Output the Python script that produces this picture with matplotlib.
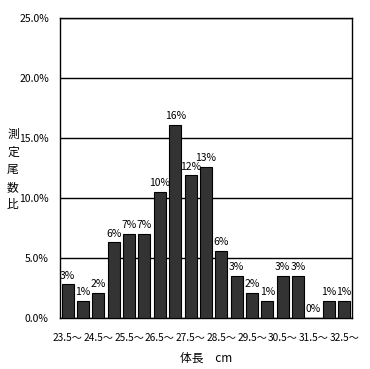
import numpy as np
import matplotlib.pyplot as plt

plt.rcParams['font.family'] = ['Noto Sans CJK JP', 'DejaVu Sans']

# Data
classes = ['23.5～', '24～', '24.5～', '25～', '25.5～', '26～', '26.5～', '27～',
           '27.5～', '28～', '28.5～', '29～', '29.5～', '30～', '30.5～', '31～',
           '31.5～', '32～', '32.5～']
ratios = [2.83, 1.42, 2.13, 6.33, 7.0, 7.0, 10.5, 16.1, 11.9, 12.6,
          5.6, 3.5, 2.13, 1.42, 3.5, 3.5, 0.0, 1.42, 1.42]
value_labels = ['3%', '1%', '2%', '6%', '7%', '7%', '10%', '16%', '12%', '13%',
                '6%', '3%', '2%', '1%', '3%', '3%', '0%', '1%', '1%']
yticks = [0, 5, 10, 15, 20, 25]

fig = plt.figure(figsize=(3.70, 3.69), dpi=100)
ax = fig.add_axes([0.162, 0.138, 0.789, 0.813])

x = np.arange(len(classes))
ax.bar(x, ratios, width=0.78, color='#333333', edgecolor='black', linewidth=0.8, zorder=3)

# value labels above bars
for xi, v, lab in zip(x, ratios, value_labels):
    ax.text(xi, v + 0.3, lab, ha='center', va='bottom', fontsize=7.5, zorder=4)

ax.set_xlim(-0.5, len(classes) - 0.5)
ax.set_ylim(0, 25)
ax.set_yticks(yticks)
ax.set_yticklabels([f'{t:.1f}%' for t in yticks], fontsize=7.5)
ax.yaxis.grid(True, color='black', linewidth=1, zorder=0)
ax.tick_params(axis='both', length=0)
ax.tick_params(axis='y', pad=8)
ax.tick_params(axis='x', pad=11)

ax.set_xticks(x[::2])
ax.set_xticklabels([classes[i] for i in range(0, len(classes), 2)], fontsize=7.3)

for s in ax.spines.values():
    s.set_color('black')
    s.set_linewidth(1)

ax.set_xlabel('体長　cm', fontsize=8.5, labelpad=6)
fig.text(0.035, 0.54, '\n'.join('測定尾数比'), ha='center', va='center',
         fontsize=8.5, linespacing=1.45)

plt.savefig('out.png', dpi=100)
